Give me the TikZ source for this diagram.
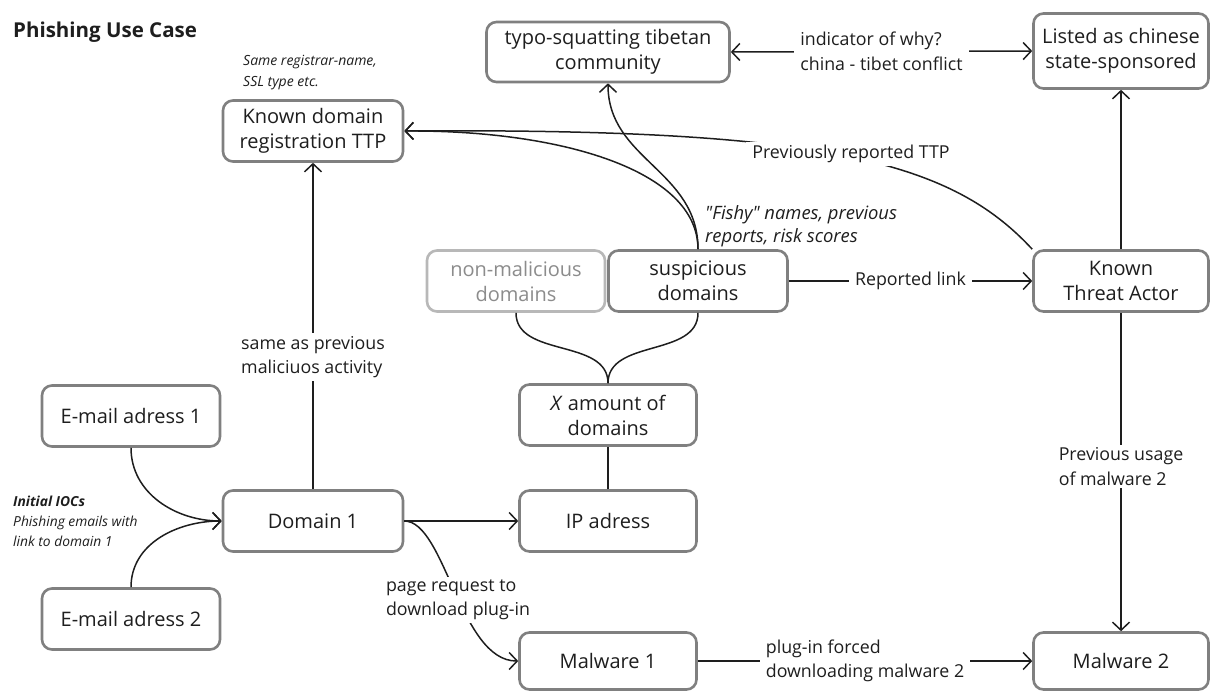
\documentclass[tikz,border=0pt]{standalone}
\usepackage{fontspec}
\setmainfont{Open Sans}
\usetikzlibrary{arrows.meta}
\definecolor{boxgray}{HTML}{808080}
\definecolor{palegray}{HTML}{B8B8B8}
\definecolor{paletext}{HTML}{8C8C8C}
\definecolor{ink}{HTML}{1E1E1E}
\begin{document}
\begin{tikzpicture}[x=1pt,y=-1pt,
  box/.style={draw=boxgray, line width=2.6pt, rounded corners=10pt, fill=white,
    minimum width=178pt, minimum height=61pt, align=center, inner sep=2pt,
    font=\fontsize{20}{25}\selectfont, text=ink},
  palebox/.style={box, draw=palegray, text=paletext},
  conn/.style={line width=1.5pt, draw=ink},
  arr/.style={conn, -{Straight Barb[length=8pt,width=17pt,line width=1.5pt]}},
  darr/.style={conn, {Straight Barb[length=8pt,width=17pt,line width=1.5pt]}-{Straight Barb[length=8pt,width=17pt,line width=1.5pt]}},
  lbl/.style={fill=white, inner xsep=6pt, inner ysep=3pt, align=left, text=ink,
    font=\fontsize{17.8}{24.5}\selectfont},
  note/.style={text=ink, align=left, inner sep=0pt, font=\fontsize{14}{21}\itshape\selectfont},
]
\useasboundingbox (0,0) rectangle (1210,691);

% title and side notes
\node[anchor=west, text=ink, inner sep=0pt, font=\fontsize{20.5}{24}\bfseries\selectfont] (title) at (13,32) {Phishing Use Case};
\node[note, anchor=west] (regnote) at (243,73) {Same registrar-name,\\SSL type etc.};
\node[note, anchor=west, font=\fontsize{13.8}{20}\itshape\selectfont] (iocnote) at (13,521) {\textbf{Initial IOCs}\\Phishing emails with\\link to domain 1};

% boxes
\node[box, minimum width=180pt] (ttp) at (313,131) {Known domain\\registration TTP};
\node[box, minimum width=243pt, minimum height=60pt] (typo) at (608,52) {typo-squatting tibetan\\community};
\node[box, minimum width=175pt, minimum height=75pt] (listed) at (1121,51) {Listed as chinese\\state-sponsored};
\node[palebox, minimum width=178pt] (nonmal) at (516,281) {non-malicious\\domains};
\node[box, minimum width=179pt] (susp) at (698,281) {suspicious\\domains};
\node[box, minimum width=175pt] (actor) at (1121,281) {Known\\Threat Actor};
\node[box, minimum width=177pt] (xdom) at (608,415) {\textit{X} amount of\\domains};
\node[box] (mail1) at (131,416) {E-mail adress 1};
\node[box, minimum width=180pt] (dom1) at (313,521) {Domain 1};
\node[box] (mail2) at (131,619) {E-mail adress 2};
\node[box, minimum width=177pt] (ip) at (608,521) {IP adress};
\node[box, minimum width=177pt, minimum height=57pt] (mal1) at (608,661) {Malware 1};
\node[box, minimum width=175pt, minimum height=57pt] (mal2) at (1121,661) {Malware 2};

% connectors
\draw[arr] (mail1.south) to[out=-90, in=180] (dom1.west);
\draw[arr] (mail2.north) to[out=90, in=180] (dom1.west);
\draw[arr] (dom1.east) -- (ip.west);
\draw[arr] (dom1.north) -- node[lbl, pos=0.405] (sameas) {same as previous\\maliciuos activity} (ttp.south);
\draw[arr] (dom1.east) .. controls (445,521) and (460,661) .. (mal1.west);
\node[lbl] (pagereq) at (458,600) {page request to\\download plug-in};
\draw[conn] (ip.north) -- (xdom.south);
\draw[conn] (nonmal.south) to[out=-90, in=90] (xdom.north);
\draw[conn] (susp.south) to[out=-90, in=90] (xdom.north);
\draw[arr] (susp.north) .. controls (698,170) and (608,160) .. (typo.south);
\draw[arr] (susp.north) .. controls (698,170) and (560,130) .. (ttp.east);
\draw[arr] (actor.north west) .. controls (950,160) and (820,128) .. (ttp.east);
\node[lbl] (prevttp) at (851,154) {Previously reported TTP};
\draw[arr] (susp.east) -- node[lbl] (replink) {Reported link} (actor.west);
\draw[arr] (actor.north) -- (listed.south);
\draw[arr] (actor.south) -- node[lbl, pos=0.483] (prevuse) {Previous usage\\of malware 2} (mal2.north);
\draw[arr] (mal1.east) -- node[lbl] (forced) {plug-in forced\\downloading malware 2} (mal2.west);
\draw[darr] (typo.east) -- node[lbl] (why) {indicator of why?\\china - tibet conflict} (listed.west);

\node[note, anchor=west, font=\fontsize{18.4}{23}\itshape\selectfont] (fishy) at (705,226) {\textquotedbl Fishy\textquotedbl{} names, previous\\reports, risk scores};
\end{tikzpicture}
\end{document}
